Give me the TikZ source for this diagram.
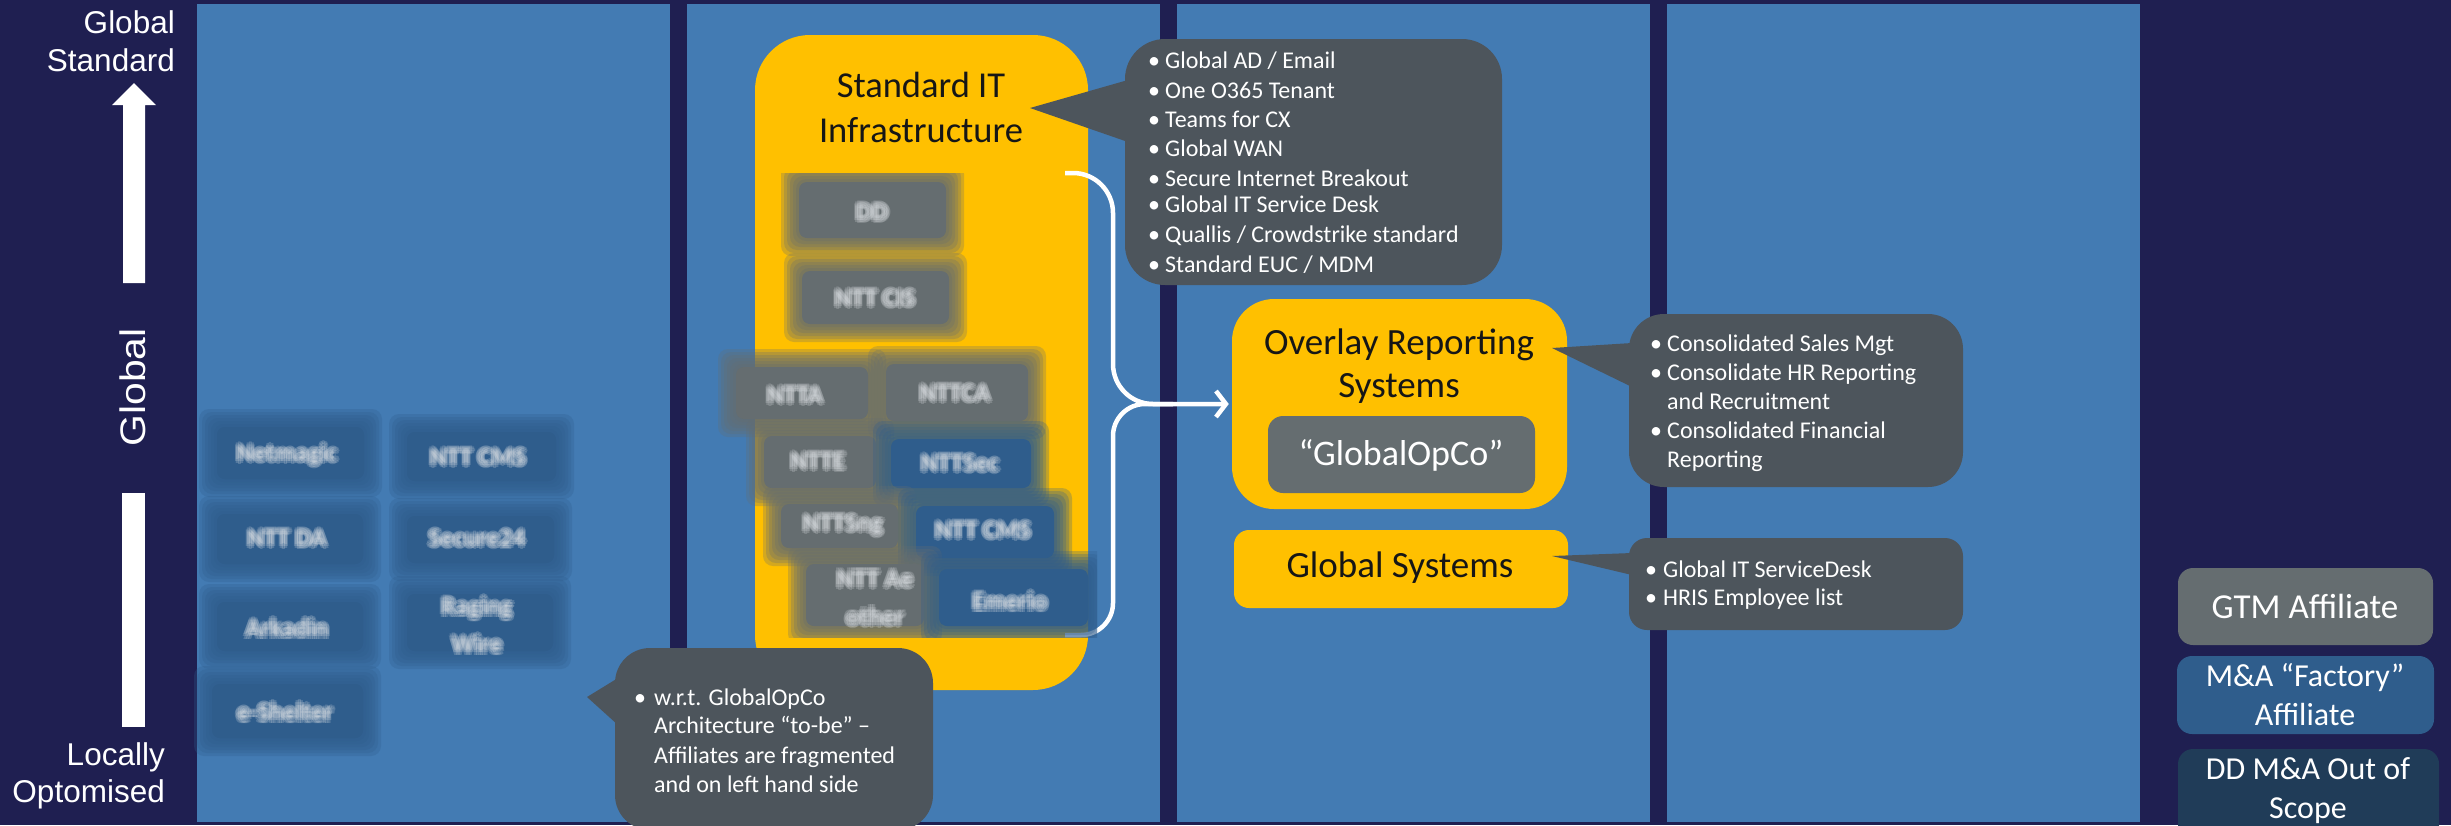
\documentclass[tikz,border=0pt]{standalone}
\usepackage{fontspec}
\setmainfont{Carlito}
\newfontfamily\axisfont{Liberation Sans}
\usetikzlibrary{arrows.meta}

\definecolor{navy}{HTML}{1F1F51}
\definecolor{lane}{HTML}{437BB3}
\definecolor{gold}{HTML}{FFC000}
\definecolor{slate}{HTML}{4D555C}
\definecolor{stone}{HTML}{656D70}
\definecolor{steel}{HTML}{2F5D8C}
\definecolor{deep}{HTML}{203C58}
\definecolor{haze}{HTML}{DCE0E4}
\definecolor{ink}{HTML}{161616}

\newcommand\fsz[2]{\fontsize{#1}{#2}\selectfont}
\newcommand\nbul{\makebox[17pt][l]{\textbullet}}
\newcommand\ngap{\hspace*{17pt}}

\tikzset{
  lanebox/.style={rectangle, fill=lane, inner sep=0pt, minimum width=473pt, minimum height=818pt},
  goldbox/.style={rectangle, fill=gold, inner sep=0pt},
  greybox/.style={rectangle, fill=stone, inner sep=0pt, rounded corners=15pt},
  notebox/.style={rectangle, fill=slate, inner sep=0pt},
  legendbox/.style={rectangle, inner sep=0pt, rounded corners=15pt},
  axislabel/.style={text=white, inner sep=0pt, font=\axisfont\fsz{31.5}{38}},
  titletext/.style={text=ink, inner sep=0pt, anchor=base},
  notetext/.style={text=white, inner sep=0pt, anchor=base west, font=\fsz{24}{29}},
  legendtext/.style={text=white, inner sep=0pt, anchor=base},
  smudge/.style={text=haze, opacity=0.22, inner sep=0pt, align=center, font=\bfseries\fsz{25.5}{38}},
  wire/.style={white, line width=4.5pt},
}

% soft-edged box: name, cx, cy, width, height, colour
\newcommand\smudgebox[6]{%
  \fill[#6, rounded corners=8pt] ({#2-#4/2+9},{#3-#5/2+9}) rectangle ({#2+#4/2-9},{#3+#5/2-9});
  \foreach \k in {1,...,6}{%
    \fill[#6, opacity=0.28, rounded corners=10pt]
      ({#2-#4/2+9-3*\k},{#3-#5/2+9-3*\k}) rectangle ({#2+#4/2-9+3*\k},{#3+#5/2-9+3*\k});
  }%
  \coordinate (#1) at (#2,#3);
}
% soft-edged label: name, cx, cy, text
\newcommand\smudgetext[4]{%
  \foreach \dx/\dy [count=\j] in {0/0,3/0,-3/0,0/3,0/-3,2.2/2.2,-2.2/2.2,2.2/-2.2,-2.2/-2.2}{%
    \node[smudge] (#1-\j) at ({#2+\dx},{#3+\dy}) {#4};
  }%
}

\begin{document}
\begin{tikzpicture}[x=1pt, y=-1pt]
\clip (0,0) rectangle (2451,825);
\fill[navy] (0,0) rectangle (2451,825);

% four lanes
\node[lanebox] (lane1) at (433.5,413) {};
\node[lanebox] (lane2) at (923.5,413) {};
\node[lanebox] (lane3) at (1413.5,413) {};
\node[lanebox] (lane4) at (1903.5,413) {};

% vertical axis
\node[axislabel, anchor=base east] (top1) at (175,33) {Global};
\node[axislabel, anchor=base east] (top2) at (175,71) {Standard};
\fill[white] (123,283) -- (123,105) -- (112,105) -- (134,83) -- (156,105) -- (145,105) -- (145,283) -- cycle;
\node[axislabel, rotate=90, font=\axisfont\fsz{35.5}{40}] (mid) at (132.5,387.5) {\scalebox{1.15}[1]{Global}};
\fill[white] (122,493) rectangle (145,727);
\node[axislabel, anchor=base east] (bot1) at (165,765) {Locally};
\node[axislabel, anchor=base east] (bot2) at (165,802) {Optomised};

% local affiliates (lane 1)
\smudgebox{a1}{290.5}{453}{165}{70}{steel}
\smudgebox{a2}{481.5}{456.5}{167}{67}{steel}
\smudgebox{a3}{290}{539}{164}{68}{steel}
\smudgebox{a4}{480.5}{539.5}{165}{65}{steel}
\smudgebox{a5}{290}{626.5}{164}{67}{steel}
\smudgebox{a6}{480}{622.5}{164}{75}{steel}
\smudgebox{a7}{287.5}{711}{169}{72}{steel}
\smudgetext{t1}{287}{455}{Netmagic}
\smudgetext{t2}{478}{457}{NTT CMS}
\smudgetext{t3}{287}{538}{NTT DA}
\smudgetext{t4}{477}{538}{Secure24}
\smudgetext{t5}{287}{628}{Arkadin}
\smudgetext{t6}{477}{625}{Raging\\Wire}
\smudgetext{t7}{285}{712}{e-Shelter}

% standard infrastructure
\node[goldbox, rounded corners=55pt, minimum width=333pt, minimum height=655pt] (sit) at (921.5,362.5) {};
\node[titletext, font=\fsz{36.5}{44}] (sitA) at (921,97) {Standard IT};
\node[titletext, font=\fsz{36.5}{44}] (sitB) at (921,142) {Infrastructure};

% overlay reporting and global systems
\node[goldbox, rounded corners=42pt, minimum width=335pt, minimum height=210pt] (ovl) at (1399.5,404) {};
\node[titletext, font=\fsz{37}{44}] (ovlA) at (1399,354) {Overlay Reporting};
\node[titletext, font=\fsz{37}{44}] (ovlB) at (1399,397) {Systems};
\node[greybox, minimum width=267pt, minimum height=77pt] (gop) at (1401.5,454.5) {};
\node[legendtext, font=\fsz{36}{44}] (gopT) at (1401,465) {“GlobalOpCo”};
\node[goldbox, rounded corners=15pt, minimum width=334pt, minimum height=78pt] (gsys) at (1401,569) {};
\node[titletext, font=\fsz{37}{44}] (gsysT) at (1400,577) {Global Systems};

% feed from the infrastructure stack into the overlay
\coordinate (feedA) at (1065,173);
\coordinate (feedB) at (1065,635);
\coordinate (feedM) at (1113,404);
\draw[wire, rounded corners=40pt, -{Straight Barb[length=10pt,width=26pt]}, shorten >=3pt]
  (feedA) -- (feedM |- feedA) -- (feedM) -- (ovl.west);
\draw[wire, rounded corners=32pt] (feedB) -- (feedM |- feedB) -- (feedM) -- ++(60,0);

% companies inside the infrastructure stack
\begin{scope}
\clip (700,173) rectangle (1097,637);
\smudgebox{b1}{872.5}{210}{165}{74}{stone}
\smudgebox{b2}{875.5}{297.5}{165}{71}{stone}
\smudgebox{b3}{802}{393}{150}{70}{stone}
\smudgebox{b4}{957}{392.5}{160}{75}{stone}
\smudgebox{b5}{820}{462}{130}{70}{stone}
\smudgebox{b6}{961}{463.5}{158}{67}{steel}
\smudgebox{b7}{839.5}{526}{135}{62}{stone}
\smudgebox{b8}{985}{532}{156}{70}{steel}
\smudgebox{b9}{865}{595}{136}{80}{stone}
\smudgebox{b10}{1013.5}{597.5}{167}{75}{steel}
\smudgetext{u1}{872}{212}{DD}
\smudgetext{u2}{875}{298}{NTT CIS}
\smudgetext{u3}{795}{395}{NTTA}
\smudgetext{u4}{955}{393}{NTTCA}
\smudgetext{u5}{818}{461}{NTTE}
\smudgetext{u6}{960}{463}{NTTSec}
\smudgetext{u7}{843}{525}{NTTSng}
\smudgetext{u8}{983}{530}{NTT CMS}
\smudgetext{u9}{875}{598}{NTT Ae\\other}
\smudgetext{u10}{1010}{601}{Emerio}
\end{scope}

% callout: infrastructure services
\node[notebox, rounded corners=40pt, minimum width=377pt, minimum height=246pt] (n1) at (1313.5,162) {};
\coordinate (p1) at (1030,108);
\fill[slate] (p1) -- (1128,80) -- (1128,142) -- cycle;
\foreach \y/\t [count=\i] in {68/{\nbul Global AD / Email}, 98/{\nbul One O365 Tenant}, 127/{\nbul Teams for CX},
  156/{\nbul Global WAN}, 186/{\nbul Secure Internet Breakout}, 212/{\nbul Global IT Service Desk},
  242/{\nbul Quallis / Crowdstrike standard}, 272/{\nbul Standard EUC / MDM}}{
  \node[notetext] (n1-\i) at (1148,\y) {\t};
}

% callout: overlay reporting
\node[notebox, rounded corners=35pt, minimum width=334pt, minimum height=173pt] (n2) at (1796,400.5) {};
\coordinate (p2) at (1552,348);
\fill[slate] (p2) -- (1632,343) -- (1632,387) -- cycle;
\foreach \y/\t [count=\i] in {351/{\nbul Consolidated Sales Mgt}, 380/{\nbul Consolidate HR Reporting},
  409/{\ngap and Recruitment}, 438/{\nbul Consolidated Financial}, 467/{\ngap Reporting}}{
  \node[notetext] (n2-\i) at (1650,\y) {\t};
}

% callout: global systems
\node[notebox, rounded corners=18pt, minimum width=334pt, minimum height=92pt] (n3) at (1796,584) {};
\coordinate (p3) at (1552,556);
\fill[slate] (p3) -- (1632,553) -- (1632,575) -- cycle;
\node[notetext] (n3-1) at (1645,577) {\makebox[18pt][l]{\textbullet}Global IT ServiceDesk};
\node[notetext] (n3-2) at (1645,605) {\makebox[18pt][l]{\textbullet}HRIS Employee list};

% callout: affiliates
\node[notebox, rounded corners=35pt, minimum width=318pt, minimum height=182pt] (n4) at (774,739) {};
\coordinate (p4) at (587,697);
\fill[slate] (p4) -- (618,678) -- (618,725) -- cycle;
\foreach \y/\t [count=\i] in {705/{\makebox[20pt][l]{\textbullet}w.r.t. GlobalOpCo},
  733/{\hspace*{20pt}Architecture “to-be” –}, 763/{\hspace*{20pt}Affiliates are fragmented},
  792/{\hspace*{20pt}and on left hand side}}{
  \node[notetext] (n4-\i) at (634,\y) {\t};
}

% legend
\node[legendbox, fill=stone, minimum width=255pt, minimum height=77pt] (gtm) at (2305.5,606.5) {};
\node[legendtext, font=\fsz{35}{42}] (gtmT) at (2305,618) {GTM Affiliate};
\node[legendbox, fill=steel, minimum width=257pt, minimum height=78pt] (mna) at (2305.5,695) {};
\node[legendtext, font=\fsz{32}{39}] (mnaA) at (2305,686) {M\&A “Factory”};
\node[legendtext, font=\fsz{32}{39}] (mnaB) at (2305,725) {Affiliate};
\node[legendbox, fill=deep, minimum width=261pt, minimum height=91pt] (ddm) at (2308.5,794.5) {};
\node[legendtext, font=\fsz{32}{39}] (ddmA) at (2308,779) {DD M\&A Out of};
\node[legendtext, font=\fsz{32}{39}] (ddmB) at (2308,818) {Scope};
\end{tikzpicture}
\end{document}
